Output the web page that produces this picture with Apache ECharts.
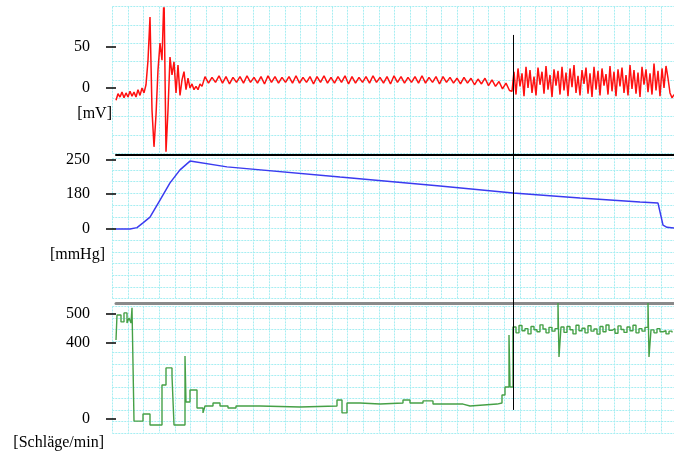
<!DOCTYPE html>
<html>
<head>
<meta charset="utf-8">
<script src="https://cdn.jsdelivr.net/npm/echarts@6/dist/echarts.min.js"></script>
<style>
html,body{margin:0;padding:0;background:#fff;}
#main{width:674px;height:454px;}
</style>
</head>
<body>
<div id="main"></div>
<script>
// ---- data ----
// EKG [mV], sampled in three pieces (start, step, values)
var ecgStartA = 0,   ecgStepA = 2;
var ecgA = [-15,-7,-11,-5,-12,-6,-11,-4,-10,-5,-11,-2,-9,0,-6,4,34,87,-27,-72,-33,22,55,34,115,-78,-27,38,16,32,-6,28,-9,10,20,-2,12,0,5,-2,2,-2,5,2,10];
var ecgStartB = 89,  ecgStepB = 3.5;
var ecgB = [14,6,13,7,15,6,14,5,13,7,14,6,15,7,13,6,14,5,15,7,14,6,13,7,14,6,15,6,13,7,14,5,14,7,15,6,13,6,14,7,15,5,14,6,13,7,14,6,15,7,13,6,14,5,15,7,14,6,13,7,14,6,15,6,13,7,14,5,14,7,13,6,12,5,13,6,12,4,11,5,12,3,10,2,8,-1,6,-3];
var ecgStartC = 396, ecgStepC = 2;
var ecgC = [-4,20,-8,24,2,18,-10,26,0,22,-6,14,-9,25,4,20,-7,27,-2,16,-11,23,3,21,-8,26,-3,19,-10,24,1,28,-6,15,-9,22,5,25,-7,18,-11,26,-2,21,-9,24,3,17,-8,27,-4,20,-10,23,2,25,-6,16,-9,28,-1,22,-7,19,-11,26,4,23,-5,18,-8,30,-3,21,-10,24,0,27,12,-6,-12,-8];

// Blutdruck [mmHg]
var bpTime     = [0,14,21,27,34,44,54,64,74,111,224,324,397,464,524,542,544,547,551,558];
var bpPressure = [0,0,5,22,43,105,167,214,246,225,188,156,130,112,98,94,62,14,6,4];

// Herzfrequenz [Schläge/min]
var hrTime = [0,1,5,8,11,13,15,16,18,27,34,46,50,56,58,69,70,74,81,87,89,97,104,112,120,144,184,221,226,231,244,264,287,294,307,317,347,354,381,386,389,393,394,
  397,400,403,406,409,412,415,418,421,424,427,430,433,436,439,
  442,443,
  445,448,451,454,457,460,463,466,469,472,475,478,481,484,487,490,493,496,499,502,505,508,511,514,517,520,523,526,529,
  532,533,
  535,538,541,544,547,550,553,556];
var hrRate = [376,495,462,505,457,481,457,529,-10,24,-29,162,243,205,-29,300,81,138,52,29,62,76,62,52,62,57,62,90,29,76,71,76,90,76,86,71,62,71,76,114,152,400,152,
  438,410,445,420,430,405,440,425,415,448,428,410,436,418,430,
  552,295,
  438,412,440,425,405,446,420,432,410,444,418,428,404,440,415,447,422,430,408,443,426,412,438,420,446,410,430,418,436,
  552,295,
  424,410,430,415,420,405,418,412];

// Cursor position (time)
var cursorTime = 397;

// Tick labels (value on the axis -> printed text)
var ecgTickValues = [0, 50],      ecgTickLabels = ['0', '50'];
var bpTickValues  = [0, 127, 250], bpTickLabels  = ['0', '180', '250'];
var hrTickValues  = [0, 362, 500], hrTickLabels  = ['0', '400', '500'];

// ---- build ----
function seg(start, step, vals){
    var out = [];
    for (var i = 0; i < vals.length; i++) out.push([start + i*step, vals[i]]);
    return out;
}
function pairs(t, v){
    var out = [];
    for (var i = 0; i < t.length; i++) out.push([t[i], v[i]]);
    return out;
}
var ecgData = seg(ecgStartA, ecgStepA, ecgA).concat(seg(ecgStartB, ecgStepB, ecgB)).concat(seg(ecgStartC, ecgStepC, ecgC));

var FONT = '"Liberation Serif", "DejaVu Serif", serif';
var gridColor = '#a6eef2';

function tickFmt(vals, labs){
    return function(v){
        for (var i = 0; i < vals.length; i++) if (Math.abs(vals[i]-v) < 0.5) return labs[i];
        return '';
    };
}
function dataY(idx, min, max, vals, labs){
    return {
        type:'value', gridIndex:idx, min:min, max:max,
        axisLine:{show:false},
        axisTick:{show:true, length:10, customValues:vals, lineStyle:{color:'#000', width:1.5}},
        axisLabel:{show:true, customValues:vals, formatter:tickFmt(vals, labs), margin:26,
                   color:'#000', fontFamily:FONT, fontSize:16, padding:[0,0,7,0]},
        splitLine:{show:false}
    };
}
function dataX(idx, lineColor, lineWidth){
    return {
        type:'value', gridIndex:idx, min:0, max:558, position:'top',
        axisLine:{show:!!lineColor, onZero:false, lineStyle:{color:lineColor||'#000', width:lineWidth||1}},
        axisTick:{show:false}, axisLabel:{show:false}, splitLine:{show:false}
    };
}
// hidden axes that only draw the light cyan paper grid
function paperX(idx, max, step){
    return {type:'value', gridIndex:idx, min:0, max:max, interval:step,
        axisLine:{show:false}, axisTick:{show:false}, axisLabel:{show:false},
        splitLine:{show:true, lineStyle:{color:gridColor, width:1, type:[2,1]}}};
}
function paperY(idx, max, step){
    return {type:'value', gridIndex:idx, min:0, max:max, interval:step,
        axisLine:{show:false}, axisTick:{show:false}, axisLabel:{show:false},
        splitLine:{show:true, lineStyle:{color:gridColor, width:1, type:[2,1]}}};
}
function cursor(yTop, yBottom){
    return {
        silent:true, symbol:'none', label:{show:false},
        lineStyle:{color:'#000', width:1, type:'solid'},
        data:[[{coord:[cursorTime, yTop]}, {coord:[cursorTime, yBottom]}]]
    };
}

var myChart = echarts.init(document.getElementById('main'));

var option = {
    animation:false,
    backgroundColor:'#fff',
    grid:[
        // paper grid
        {left:112.3, right:0, top:6.7,   height:146.4},
        {left:112.3, right:0, top:158.3, height:140.4},
        {left:112.3, right:0, top:306.4, height:126.5},
        // data panels
        {left:116, right:0, top:8,   height:147},
        {left:116, right:0, top:155, height:148},
        {left:116, right:0, top:303, height:133}
    ],
    xAxis:[
        paperX(0, 561.7, 15.68), paperX(1, 561.7, 15.68), paperX(2, 561.7, 15.68),
        dataX(3),
        dataX(4, '#000', 2),
        dataX(5, '#8a8a8a', 3)
    ],
    yAxis:[
        paperY(0, 146.4, 18.3), paperY(1, 140.4, 11.7), paperY(2, 126.5, 11.5),
        dataY(3, -82, 98, ecgTickValues, ecgTickLabels),
        dataY(4, -268, 268, bpTickValues, bpTickLabels),
        dataY(5, -81, 552, hrTickValues, hrTickLabels)
    ],
    graphic:[
        {type:'text', style:{text:'[mV]', x:112, y:114, textAlign:'right', textVerticalAlign:'middle', font:'16px ' + FONT, fill:'#000'}},
        {type:'text', style:{text:'[mmHg]', x:105, y:255, textAlign:'right', textVerticalAlign:'middle', font:'16px ' + FONT, fill:'#000'}},
        {type:'text', style:{text:'[Schläge/min]', x:104, y:443, textAlign:'right', textVerticalAlign:'middle', font:'16px ' + FONT, fill:'#000'}}
    ],
    series:[
        {
            name:'EKG', type:'line', xAxisIndex:3, yAxisIndex:3,
            data:ecgData, showSymbol:false, clip:true,
            lineStyle:{color:'#ff1010', width:1.5},
            markLine:cursor(65, -82)
        },
        {
            name:'Blutdruck', type:'line', xAxisIndex:4, yAxisIndex:4,
            data:pairs(bpTime, bpPressure), showSymbol:false, clip:true,
            lineStyle:{color:'#3b3bf0', width:1.5},
            markLine:cursor(268, -268)
        },
        {
            name:'Herzfrequenz', type:'line', xAxisIndex:5, yAxisIndex:5, step:'end',
            data:pairs(hrTime, hrRate), showSymbol:false, clip:true,
            lineStyle:{color:'#46a046', width:1.4},
            markLine:cursor(552, 43)
        }
    ]
};

myChart.setOption(option);
</script>
</body>
</html>
